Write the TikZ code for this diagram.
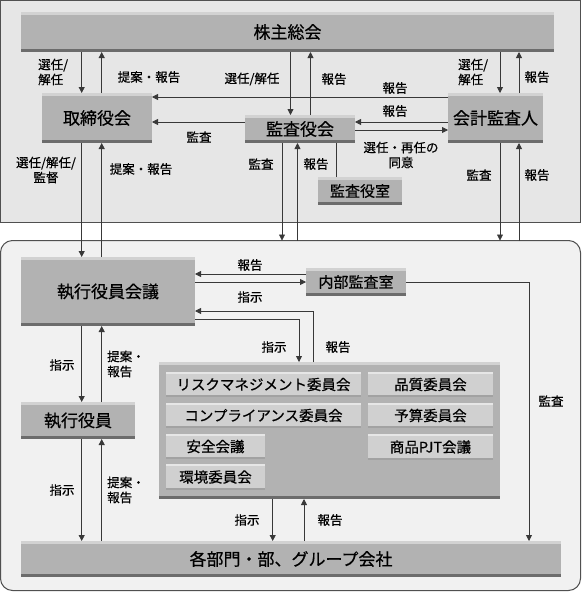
\documentclass[tikz,border=0pt]{standalone}
\usepackage{fontspec}
\setmainfont{Noto Sans CJK JP}[AutoFakeBold=0.5]
\usetikzlibrary{arrows.meta}
\definecolor{panelA}{HTML}{E6E6E6}
\definecolor{panelB}{HTML}{F1F1F1}
\definecolor{boxg}{HTML}{B2B2B2}
\definecolor{boxhl}{HTML}{D2D2D2}
\definecolor{boxdk}{HTML}{6C6C6C}
\definecolor{inng}{HTML}{D0D0D0}
\definecolor{innhl}{HTML}{E6E6E6}
\definecolor{inndk}{HTML}{A2A2A2}
\definecolor{linec}{HTML}{383838}
\definecolor{borderc}{HTML}{505050}
\tikzset{
  bigf/.style={font=\fontsize{17}{20}\selectfont\bfseries},
  midf/.style={font=\fontsize{15}{18}\selectfont\bfseries},
  smf/.style={font=\fontsize{14.5}{17}\selectfont\bfseries},
  lab/.style={font=\fontsize{12.5}{15}\selectfont\bfseries, inner sep=0pt},
  box/.style={fill=boxg, inner sep=0pt, outer sep=0pt, anchor=north west,
    path picture={
      \fill[boxhl] (path picture bounding box.north west) rectangle ([yshift=-3pt]path picture bounding box.north east);
      \fill[boxdk] ([yshift=3pt]path picture bounding box.south west) rectangle (path picture bounding box.south east);
    }},
  innbox/.style={fill=inng, inner sep=0pt, outer sep=0pt, anchor=north west,
    path picture={
      \fill[innhl] (path picture bounding box.north west) rectangle ([yshift=-2pt]path picture bounding box.north east);
      \fill[inndk] ([yshift=2pt]path picture bounding box.south west) rectangle (path picture bounding box.south east);
    }},
  arr/.style={draw=linec, line width=0.8pt, -{Triangle[length=6pt,width=6pt]}},
  plain/.style={draw=linec, line width=0.8pt},
}
\begin{document}
\begin{tikzpicture}[x=1pt,y=-1pt]
\useasboundingbox (0,0) rectangle (582,592);
% panels
\node[draw=borderc, line width=1pt, fill=panelA, inner sep=0pt, outer sep=0pt, anchor=north west, minimum width=580pt, minimum height=222pt] (upper) at (0.5,0.5) {};
\node[draw=borderc, line width=1pt, fill=panelB, rounded corners=12pt, inner sep=0pt, outer sep=0pt, anchor=north west, minimum width=580pt, minimum height=350pt] (low) at (0.5,240.5) {};
% boxes
\node[box, bigf, minimum width=533pt, minimum height=40pt] (sh) at (21,12) {株主総会};
\node[box, bigf, minimum width=110pt, minimum height=50pt] (tori) at (42,93) {取締役会};
\node[box, bigf, minimum width=110pt, minimum height=28pt] (kansa) at (245,115) {監査役会};
\node[box, bigf, minimum width=95pt, minimum height=50pt] (kaikei) at (448,93) {会計監査人};
\node[box, midf, minimum width=84pt, minimum height=28pt] (shitsu) at (318,177) {監査役室};
\node[box, bigf, minimum width=174pt, minimum height=69pt] (shikkou) at (21,257) {執行役員会議};
\node[box, midf, minimum width=100pt, minimum height=28pt] (naibu) at (306,268) {内部監査室};
\node[box, minimum width=341pt, minimum height=137pt] (iinkai) at (159,362) {};
\node[innbox, smf, minimum width=195pt, minimum height=25pt] (risk) at (166,372) {リスクマネジメント委員会};
\node[innbox, smf, minimum width=125pt, minimum height=25pt] (hinshitsu) at (368,372) {品質委員会};
\node[innbox, smf, minimum width=195pt, minimum height=25pt] (compl) at (166,403) {コンプライアンス委員会};
\node[innbox, smf, minimum width=125pt, minimum height=25pt] (yosan) at (368,403) {予算委員会};
\node[innbox, smf, minimum width=99pt, minimum height=25pt] (anzen) at (166,434) {安全会議};
\node[innbox, smf, minimum width=125pt, minimum height=26pt] (shohin) at (368,434) {商品PJT会議};
\node[innbox, smf, minimum width=99pt, minimum height=26pt] (kankyo) at (166,464) {環境委員会};
\node[box, bigf, minimum width=114pt, minimum height=37pt] (yakuin) at (21,402) {執行役員};
\node[box, bigf, minimum width=540pt, minimum height=36pt] (kaku) at (21,541) {各部門・部、グループ会社};
% x/y guides
\coordinate (xa) at (81.7,0);
\coordinate (xb) at (101.7,0);
\coordinate (xc) at (290.5,0);
\coordinate (xd) at (310.5,0);
\coordinate (xe) at (500,0);
\coordinate (xf) at (519,0);
\coordinate (xg) at (336,0);
\coordinate (xh) at (282,0);
\coordinate (xi) at (297.5,0);
\coordinate (xj) at (299,0);
\coordinate (xk) at (313,0);
\coordinate (xl) at (529,0);
\coordinate (xm) at (272.7,0);
\coordinate (xn) at (304,0);
\coordinate (ya) at (0,97);
\coordinate (yb) at (0,122);
\coordinate (yc) at (0,130);
\coordinate (yd) at (0,274);
\coordinate (ye) at (0,282);
\coordinate (yf) at (0,311);
\coordinate (yg) at (0,319);
% top connectors
\draw[arr] (sh.south -| xa) -- (tori.north -| xa);
\draw[arr] (tori.north -| xb) -- (sh.south -| xb);
\draw[arr] (sh.south -| xc) -- (kansa.north -| xc);
\draw[arr] (kansa.north -| xd) -- (sh.south -| xd);
\draw[arr] (sh.south -| xe) -- (kaikei.north -| xe);
\draw[arr] (kaikei.north -| xf) -- (sh.south -| xf);
\draw[arr] (kaikei.west |- ya) -- (tori.east |- ya);
\draw[arr] (kaikei.west |- yb) -- (kansa.east |- yb);
\draw[arr] (kansa.west |- yb) -- (tori.east |- yb);
\draw[arr] (kansa.east |- yc) -- (kaikei.west |- yc);
\draw[plain] (shitsu.north -| xg) -- (kansa.south -| xg);
\draw[arr] (kansa.south -| xh) -- (low.north -| xh);
\draw[arr] (low.north -| xi) -- (kansa.south -| xi);
\draw[arr] (kaikei.south -| xe) -- (low.north -| xe);
\draw[arr] (low.north -| xf) -- (kaikei.south -| xf);
\draw[arr] (tori.south -| xa) -- (shikkou.north -| xa);
\draw[arr] (shikkou.north -| xb) -- (tori.south -| xb);
% lower connectors
\draw[arr] (naibu.west |- yd) -- (shikkou.east |- yd);
\draw[arr] (shikkou.east |- ye) -- (naibu.west |- ye);
\draw[arr] (shikkou.east |- yg) -| (iinkai.north -| xj);
\draw[arr] (iinkai.north -| xk) |- (shikkou.east |- yf);
\draw[arr] (naibu.east |- ye) -| (kaku.north -| xl);
\draw[arr] (shikkou.south -| xa) -- (yakuin.north -| xa);
\draw[arr] (yakuin.north -| xb) -- (shikkou.south -| xb);
\draw[arr] (yakuin.south -| xa) -- (kaku.north -| xa);
\draw[arr] (kaku.north -| xb) -- (yakuin.south -| xb);
\draw[arr] (iinkai.south -| xm) -- (kaku.north -| xm);
\draw[arr] (kaku.north -| xn) -- (iinkai.south -| xn);
% labels
\node[lab, anchor=west, align=left] (l1) at (38,72) {選任/\\解任};
\node[lab] (l2) at (149,77) {提案・報告};
\node[lab] (l3) at (252,79) {選任/解任};
\node[lab] (l4) at (334,79) {報告};
\node[lab] (l5) at (395,88) {報告};
\node[lab] (l6) at (395,111) {報告};
\node[lab, align=center] (l7) at (401,155) {選任・再任の\\同意};
\node[lab] (l8) at (199,137) {監査};
\node[lab] (l9) at (316,164) {報告};
\node[lab] (l10) at (261,164) {監査};
\node[lab] (l11) at (479,175) {監査};
\node[lab] (l12) at (537,175) {報告};
\node[lab, anchor=west, align=left] (l13) at (458,72) {選任/\\解任};
\node[lab] (l14) at (537,77) {報告};
\node[lab, align=center] (l15) at (46,170) {選任/解任/\\監督};
\node[lab] (l16) at (141,169) {提案・報告};
\node[lab] (l17) at (250,265) {報告};
\node[lab] (l18) at (250,297) {指示};
\node[lab] (l19) at (274,347) {指示};
\node[lab] (l20) at (338,347) {報告};
\node[lab] (l21) at (551,401) {監査};
\node[lab] (l22) at (62,365) {指示};
\node[lab, anchor=west, align=left] (l23) at (107,364) {提案・\\報告};
\node[lab] (l24) at (62,490) {指示};
\node[lab, anchor=west, align=left] (l25) at (107,490) {提案・\\報告};
\node[lab] (l26) at (247,520) {指示};
\node[lab] (l27) at (330,520) {報告};
\end{tikzpicture}
\end{document}
